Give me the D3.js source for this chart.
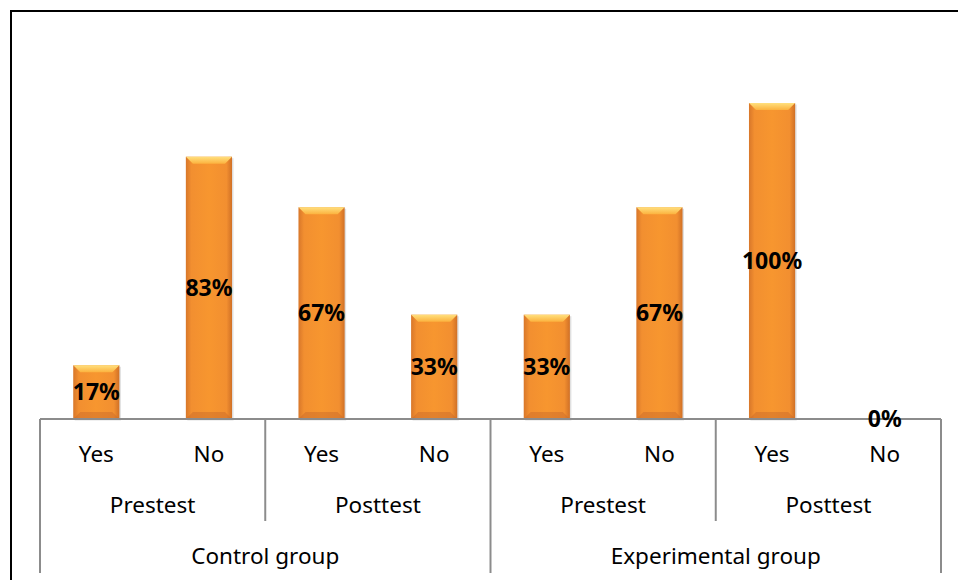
<!DOCTYPE html>
<html><head><meta charset="utf-8">
<script src="https://cdn.jsdelivr.net/npm/d3@7"></script>
<style>body{margin:0;background:#fff;} svg{display:block;font-family:"Noto Sans","Open Sans",sans-serif;}</style>
</head><body><svg id="c" width="958" height="580"></svg>
<script>
const answers = ["Yes","No","Yes","No","Yes","No","Yes","No"];
const tests = ["Prestest","Posttest","Prestest","Posttest"];
const groups = ["Control group","Experimental group"];
const values = [17,83,67,33,33,67,100,0];

(function(){
const svg = d3.select("#c");
const W=958,H=580;
const pLeft=40, pRight=941, base=419, pTop=103;
svg.append("rect").attr("x",11).attr("y",11).attr("width",W+10).attr("height",H+10)
  .attr("fill","none").attr("stroke","#000").attr("stroke-width",2);

const idx = d3.range(values.length);
const x = d3.scaleBand().domain(idx).range([pLeft,pRight]).paddingInner(0.59).paddingOuter(0.295);
const y = d3.scaleLinear().domain([0,100]).range([base,pTop]);

const defs = svg.append("defs");
const g1 = defs.append("linearGradient").attr("id","side").attr("x1","0").attr("x2","1").attr("y1","0").attr("y2","0");
[["0%","#D8772A"],["12%","#F28F30"],["50%","#F7962F"],["88%","#F28F30"],["100%","#D07026"]].forEach(s=>g1.append("stop").attr("offset",s[0]).attr("stop-color",s[1]));
const g2 = defs.append("linearGradient").attr("id","topb").attr("x1","0").attr("x2","0").attr("y1","0").attr("y2","1");
[["0%","#FFE07E"],["100%","#FCB23E"]].forEach(s=>g2.append("stop").attr("offset",s[0]).attr("stop-color",s[1]));

const bars = svg.append("g");
idx.forEach(i=>{
  const v=values[i]; if(v<=0) return;
  const bx=x(i), bw=x.bandwidth(), by=y(v), bh=base-y(v);
  const g=bars.append("g");
  g.append("rect").attr("x",bx+1.5).attr("y",by+1.5).attr("width",bw).attr("height",bh).attr("fill","#000").attr("opacity",0.12);
  g.append("rect").attr("x",bx).attr("y",by).attr("width",bw).attr("height",bh).attr("fill","url(#side)");
  const bv=Math.min(7,bh/3);
  g.append("polygon").attr("points",[[bx,by],[bx+bw,by],[bx+bw-bv,by+bv],[bx+bv,by+bv]].map(p=>p.join(",")).join(" ")).attr("fill","url(#topb)");
  g.append("polygon").attr("points",[[bx,base],[bx+bw,base],[bx+bw-bv,base-bv],[bx+bv,base-bv]].map(p=>p.join(",")).join(" ")).attr("fill","#C8682A").attr("opacity",0.45);
});

const ax = svg.append("g").attr("stroke","#8C8C8C").attr("stroke-width",2);
ax.append("line").attr("x1",pLeft).attr("x2",pRight).attr("y1",base).attr("y2",base);
const edge = k => pLeft + (pRight-pLeft)*k/8;
[0,4,8].forEach(k=>ax.append("line").attr("x1",edge(k)).attr("x2",edge(k)).attr("y1",base).attr("y2",573));
[2,6].forEach(k=>ax.append("line").attr("x1",edge(k)).attr("x2",edge(k)).attr("y1",base).attr("y2",521));

const tl = svg.append("g").attr("font-size",22.5).attr("fill","#000").attr("text-anchor","middle");
answers.forEach((a,i)=>tl.append("text").attr("x",(edge(i)+edge(i+1))/2).attr("y",462).text(a));
tests.forEach((t,i)=>tl.append("text").attr("x",(edge(2*i)+edge(2*i+2))/2).attr("y",513).text(t));
groups.forEach((t,i)=>tl.append("text").attr("x",(edge(4*i)+edge(4*i+4))/2).attr("y",564).text(t));

const dl = svg.append("g").attr("font-size",23).attr("font-weight","bold").attr("text-anchor","middle").attr("fill","#000");
idx.forEach(i=>{
  const v=values[i];
  dl.append("text").attr("x",x(i)+x.bandwidth()/2).attr("y",(y(v)+base)/2).attr("dy","0.36em").text(v+"%");
});
})();
</script></body></html>
